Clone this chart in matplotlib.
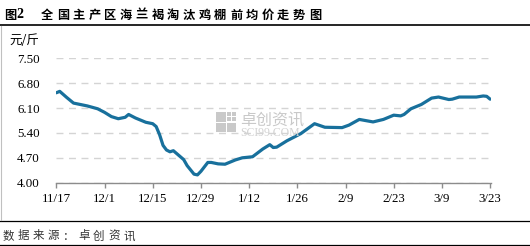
import pandas as pd
import matplotlib.pyplot as plt
from matplotlib.lines import Line2D
from matplotlib.patches import Rectangle

# price data (元/斤)
dates = ["2022-11-17", "2022-11-18", "2022-11-20", "2022-11-22", "2022-11-24",
         "2022-11-26", "2022-11-29", "2022-12-01", "2022-12-03", "2022-12-05",
         "2022-12-07", "2022-12-08", "2022-12-10", "2022-12-13", "2022-12-15",
         "2022-12-16", "2022-12-17", "2022-12-18", "2022-12-19", "2022-12-20",
         "2022-12-21", "2022-12-24", "2022-12-25", "2022-12-27", "2022-12-28",
         "2022-12-29", "2022-12-31", "2023-01-01", "2023-01-03", "2023-01-05",
         "2023-01-08", "2023-01-10", "2023-01-13", "2023-01-16", "2023-01-18",
         "2023-01-19", "2023-01-20", "2023-01-23", "2023-01-27", "2023-01-31",
         "2023-02-03", "2023-02-08", "2023-02-10", "2023-02-13", "2023-02-17",
         "2023-02-20", "2023-02-23", "2023-02-25", "2023-02-26", "2023-02-28",
         "2023-03-03", "2023-03-06", "2023-03-08", "2023-03-11", "2023-03-12",
         "2023-03-14", "2023-03-19", "2023-03-21", "2023-03-22", "2023-03-23"]
prices = [6.53, 6.57, 6.40, 6.24, 6.20,
          6.16, 6.08, 5.98, 5.86, 5.80,
          5.84, 5.92, 5.82, 5.70, 5.66,
          5.58, 5.35, 5.05, 4.92, 4.87,
          4.90, 4.65, 4.48, 4.24, 4.22,
          4.32, 4.57, 4.57, 4.53, 4.52,
          4.64, 4.70, 4.73, 4.95, 5.07,
          4.99, 5.00, 5.18, 5.38, 5.66,
          5.56, 5.55, 5.62, 5.78, 5.71,
          5.78, 5.90, 5.88, 5.92, 6.08,
          6.20, 6.38, 6.41, 6.34, 6.35,
          6.41, 6.41, 6.44, 6.43, 6.35]

tick_dates = ["2022-11-17", "2022-12-01", "2022-12-15", "2022-12-29", "2023-01-12",
              "2023-01-26", "2023-02-09", "2023-02-23", "2023-03-09", "2023-03-23"]
tick_labels = ["11/17", "12/1", "12/15", "12/29", "1/12",
               "1/26", "2/9", "2/23", "3/9", "3/23"]
y_ticks = [4.00, 4.70, 5.40, 6.10, 6.80, 7.50]

title_head = "图2"
title_body = "全国主产区海兰褐淘汰鸡棚前均价走势图"
unit_label = "元/斤"
source_text = "数据来源：卓创资讯"

W, H = 530, 246
cjk = ['Noto Sans CJK SC', 'DejaVu Sans']
serif = ['Liberation Serif', 'DejaVu Serif']


def fx(x):
    return x / W


def fy(y):
    return 1 - y / H


fig = plt.figure(figsize=(W / 100, H / 100), dpi=100)
fig.patch.set_facecolor('white')

ax = fig.add_axes([fx(56.3), fy(182.7), fx(491) - fx(56.3), fy(58.3) - fy(182.7)])

x = pd.to_datetime(dates)
ax.plot(x, prices, color='#18709c', lw=2.3, solid_joinstyle='round',
        solid_capstyle='round', zorder=3)

start = pd.Timestamp(dates[0])
ax.set_xlim(start, start + pd.Timedelta(days=126.25))
ax.set_ylim(4.0, 7.5)
ax.set_xticks(pd.to_datetime(tick_dates))
ax.set_xticklabels(tick_labels, family=serif, fontsize=9.3)
ax.set_yticks(y_ticks)
ax.set_yticklabels([f"{v:.2f}" for v in y_ticks], family=serif, fontsize=9.3)

for s in ['top', 'right', 'left']:
    ax.spines[s].set_visible(False)
ax.spines['bottom'].set_color('#8c8c8c')
ax.spines['bottom'].set_linewidth(1)
ax.set_axisbelow(True)
ax.yaxis.grid(True, linestyle=(0, (5, 4)), color='#d4d4d4', lw=1)
ax.tick_params(axis='x', length=3.6, width=1, color='#8c8c8c', pad=3.6)
ax.tick_params(axis='y', length=0, pad=12)

# watermark
wm = '#c9c9c9'
for (rx, ry) in [(216, 112), (216, 122.5), (226.5, 122.5)]:
    fig.add_artist(Rectangle((fx(rx), fy(ry + 9.5)), 9.5 / W, 9.5 / H,
                             transform=fig.transFigure, color=wm, lw=0))
for (rx, ry) in [(226.5, 112), (231.5, 112), (226.5, 117), (231.5, 117)]:
    fig.add_artist(Rectangle((fx(rx), fy(ry + 4)), 4 / W, 4 / H,
                             transform=fig.transFigure, color=wm, lw=0))
fig.text(fx(240), fy(120), "卓创资讯", family=cjk, fontsize=11.5, color=wm,
         ha='left', va='center')
fig.text(fx(240), fy(133.5), "SCI99.COM", family=serif, fontsize=8.5, color='#d2d2d2',
         ha='left', va='center')

# title, letter-spaced
fig.text(fx(4), fy(15), "图", family=cjk, fontsize=8.8, weight='bold', ha='left', va='center')
fig.text(fx(16.5), fy(15), "2", family=serif, fontsize=10, weight='bold', ha='left', va='center')
for i, ch in enumerate(title_body):
    fig.text(fx(41 + i * 15.75), fy(15), ch, family=cjk, fontsize=8.8, weight='bold',
             ha='left', va='center')

fig.text(fx(9), fy(40), unit_label, family=cjk, fontsize=9, ha='left', va='center')

for i, ch in enumerate(source_text):
    fig.text(fx(3 + i * 15), fy(236), ch, family=cjk, fontsize=8.3, color='#333333',
             ha='left', va='center')

# frame lines
fig.add_artist(Line2D([0, 1], [fy(25.3), fy(25.3)], transform=fig.transFigure,
                      color='black', lw=1.2))
fig.add_artist(Line2D([0, 1], [fy(220.6), fy(220.6)], transform=fig.transFigure,
                      color='black', lw=0.9))
fig.add_artist(Line2D([0, 1], [fy(245.2), fy(245.2)], transform=fig.transFigure,
                      color='black', lw=0.9))
fig.add_artist(Line2D([fx(0.5), fx(0.5)], [fy(26), fy(220)], transform=fig.transFigure,
                      color='#c0c0c0', lw=0.8))

fig.savefig('out.png', dpi=100)
